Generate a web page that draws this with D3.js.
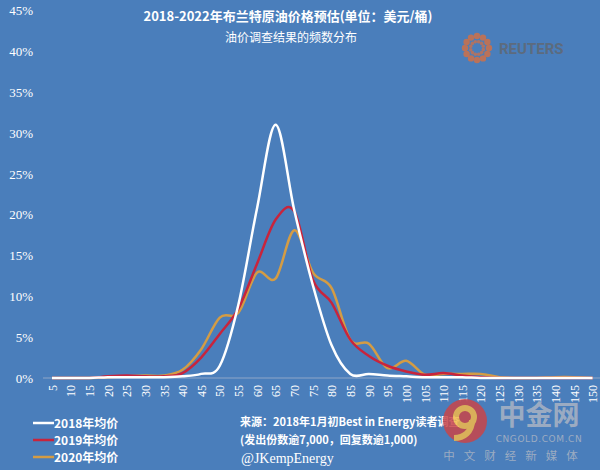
<!DOCTYPE html>
<html>
<head>
<meta charset="utf-8">
<script src="https://cdn.jsdelivr.net/npm/d3@7"></script>
<style>
  body { margin: 0; background: #4a7ebb; }
  svg { display: block; }
</style>
</head>
<body>
<script>

// price buckets (USD/bbl)
var categories = [5,10,15,20,25,30,35,40,45,50,55,60,65,70,75,80,85,90,95,100,
                  105,110,115,120,125,130,135,140,145,150];

// share of responses, %
var avg2018 = [0,0,0,0.1,0.1,0.1,0.1,0.2,0.5,1.5,9,20.8,31,20.5,11.3,4,0.5,0.5,0.3,0.2,
               0.1,0.1,0.1,0,0,0,0,0,0,0];
var avg2019 = [0,0,0,0.2,0.3,0.2,0.2,0.6,2.5,5.4,8.5,14,19.4,20.4,12,9.2,4.7,2.7,1.5,0.8,
               0.4,0.6,0.3,0.1,0,0,0,0,0,0];
var avg2020 = [0,0,0,0.1,0.2,0.3,0.3,1,3.5,7.4,8,12.9,12.2,18.1,12.9,11,4.7,4.2,1.2,2.1,
               0.4,0.5,0.5,0.5,0.1,0,0,0.1,0.1,0];

var seriesNames = ["2018年均价", "2019年均价", "2020年均价"];
var yTicks = [0,5,10,15,20,25,30,35,40,45];

var colors = ["#ffffff", "#c8243c", "#d49c44"];
var series = [avg2018, avg2019, avg2020];

var width = 600, height = 470;

var svg = d3.select("body").append("svg")
    .attr("width", width)
    .attr("height", height);

svg.append("rect")
    .attr("width", width)
    .attr("height", height)
    .attr("fill", "#4a7ebb");

var x = d3.scalePoint().domain(categories).range([52, 592.6]);
var y = d3.scaleLinear().domain([0, 45]).range([378, 10.5]);

// baseline
svg.append("line")
    .attr("x1", 43).attr("x2", 600)
    .attr("y1", y(0)).attr("y2", y(0))
    .attr("stroke", "#8ea6c8")
    .attr("stroke-width", 1);

// y axis labels
var yAxis = svg.append("g")
    .attr("transform", "translate(33,0)")
    .call(d3.axisLeft(y).tickValues(yTicks).tickSize(0).tickPadding(0)
      .tickFormat(function(d) { return d + "%"; }));
yAxis.select(".domain").remove();
yAxis.selectAll("text")
    .attr("fill", "#ffffff")
    .attr("font-family", "Liberation Serif, serif")
    .attr("font-size", "13px");

// x axis labels
var xAxis = svg.append("g")
    .attr("transform", "translate(0,385)")
    .call(d3.axisBottom(x).tickSize(0).tickPadding(0));
xAxis.select(".domain").remove();
xAxis.selectAll("text")
    .attr("fill", "#ffffff")
    .attr("font-family", "Liberation Serif, serif")
    .attr("font-size", "12px")
    .attr("transform", "rotate(-90)")
    .attr("text-anchor", "end")
    .attr("dx", "0")
    .attr("dy", "0.35em")
    .attr("y", 0)
    .attr("x", 0);

// curves
var line = d3.line()
    .x(function(d, i) { return x(categories[i]); })
    .y(function(d) { return y(d); })
    .curve(d3.curveCatmullRom.alpha(0));

// draw order: 2020 under, 2018 over
[2, 1, 0].forEach(function(k) {
  svg.append("path")
      .datum(series[k])
      .attr("d", line)
      .attr("fill", "none")
      .attr("stroke", colors[k])
      .attr("stroke-width", 2.5)
      .attr("stroke-linejoin", "round");
});

// title
svg.append("text")
    .attr("x", 288).attr("y", 21)
    .attr("text-anchor", "middle")
    .attr("fill", "#ffffff")
    .attr("font-family", "Noto Sans CJK SC, sans-serif")
    .attr("font-weight", "bold")
    .attr("font-size", "13px")
    .text("2018-2022年布兰特原油价格预估(单位：美元/桶)");

svg.append("text")
    .attr("x", 291).attr("y", 42)
    .attr("text-anchor", "middle")
    .attr("fill", "#ffffff")
    .attr("font-family", "Noto Sans CJK SC, sans-serif")
    .attr("font-size", "12px")
    .text("油价调查结果的频数分布");

// reuters mark
var reut = svg.append("g").attr("transform", "translate(477,48)");
d3.range(12).forEach(function(i) {
  var a = i / 12 * Math.PI * 2;
  reut.append("circle")
      .attr("cx", Math.cos(a) * 12)
      .attr("cy", Math.sin(a) * 12)
      .attr("r", 3.2)
      .attr("fill", "#c7714f")
      .attr("opacity", 0.9);
  reut.append("circle")
      .attr("cx", Math.cos(a + 0.26) * 6.5)
      .attr("cy", Math.sin(a + 0.26) * 6.5)
      .attr("r", 1.8)
      .attr("fill", "#c7714f")
      .attr("opacity", 0.8);
});
svg.append("text")
    .attr("x", 499).attr("y", 54)
    .attr("fill", "#5c6b7e")
    .attr("font-family", "Roboto, sans-serif")
    .attr("font-weight", "bold")
    .attr("font-size", "15px")
    .text("REUTERS");

// legend
seriesNames.forEach(function(name, i) {
  var ly = 423 + i * 17;
  svg.append("line")
      .attr("x1", 33).attr("x2", 54)
      .attr("y1", ly).attr("y2", ly)
      .attr("stroke", colors[i])
      .attr("stroke-width", 2.5);
  svg.append("text")
      .attr("x", 54).attr("y", ly + 4.5)
      .attr("fill", "#ffffff")
      .attr("font-family", "Noto Sans CJK SC, sans-serif")
      .attr("font-weight", "bold")
      .attr("font-size", "12px")
      .text(name);
});

// source note
svg.append("text")
    .attr("x", 240).attr("y", 426)
    .attr("fill", "#ffffff")
    .attr("font-family", "Noto Sans CJK SC, sans-serif")
    .attr("font-weight", "bold")
    .attr("font-size", "11px")
    .text("来源：2018年1月初Best in Energy读者调查");
svg.append("text")
    .attr("x", 240).attr("y", 444)
    .attr("fill", "#ffffff")
    .attr("font-family", "Noto Sans CJK SC, sans-serif")
    .attr("font-weight", "bold")
    .attr("font-size", "11px")
    .text("(发出份数逾7,000，回复数逾1,000)");
svg.append("text")
    .attr("x", 241).attr("y", 463)
    .attr("fill", "#ffffff")
    .attr("font-family", "Liberation Serif, serif")
    .attr("font-size", "14px")
    .text("@JKempEnergy");

// cngold watermark
var wm = svg.append("g").attr("opacity", 0.85);
wm.append("circle")
    .attr("cx", 465).attr("cy", 421).attr("r", 22)
    .attr("fill", "#c9454a");
wm.append("circle")
    .attr("cx", 465).attr("cy", 417).attr("r", 9)
    .attr("fill", "none")
    .attr("stroke", "#f2b84a")
    .attr("stroke-width", 6);
wm.append("path")
    .attr("d", "M472,420 C472,432 464,438 454,438")
    .attr("fill", "none")
    .attr("stroke", "#f2b84a")
    .attr("stroke-width", 6);
wm.append("text")
    .attr("x", 539).attr("y", 425)
    .attr("text-anchor", "middle")
    .attr("fill", "#aab4c4")
    .attr("font-family", "Noto Sans CJK SC, sans-serif")
    .attr("font-weight", "bold")
    .attr("font-size", "27px")
    .text("中金网");
wm.append("text")
    .attr("x", 539).attr("y", 442)
    .attr("text-anchor", "middle")
    .attr("fill", "#aab4c4")
    .attr("font-family", "DejaVu Sans, sans-serif")
    .attr("font-size", "9px")
    .attr("letter-spacing", "0.6px")
    .text("CNGOLD.COM.CN");
wm.append("text")
    .attr("x", 515).attr("y", 460)
    .attr("text-anchor", "middle")
    .attr("fill", "#aab4c4")
    .attr("font-family", "Noto Sans CJK SC, sans-serif")
    .attr("font-size", "11.5px")
    .attr("letter-spacing", "9px")
    .text("中文财经新媒体");

</script>
</body>
</html>
